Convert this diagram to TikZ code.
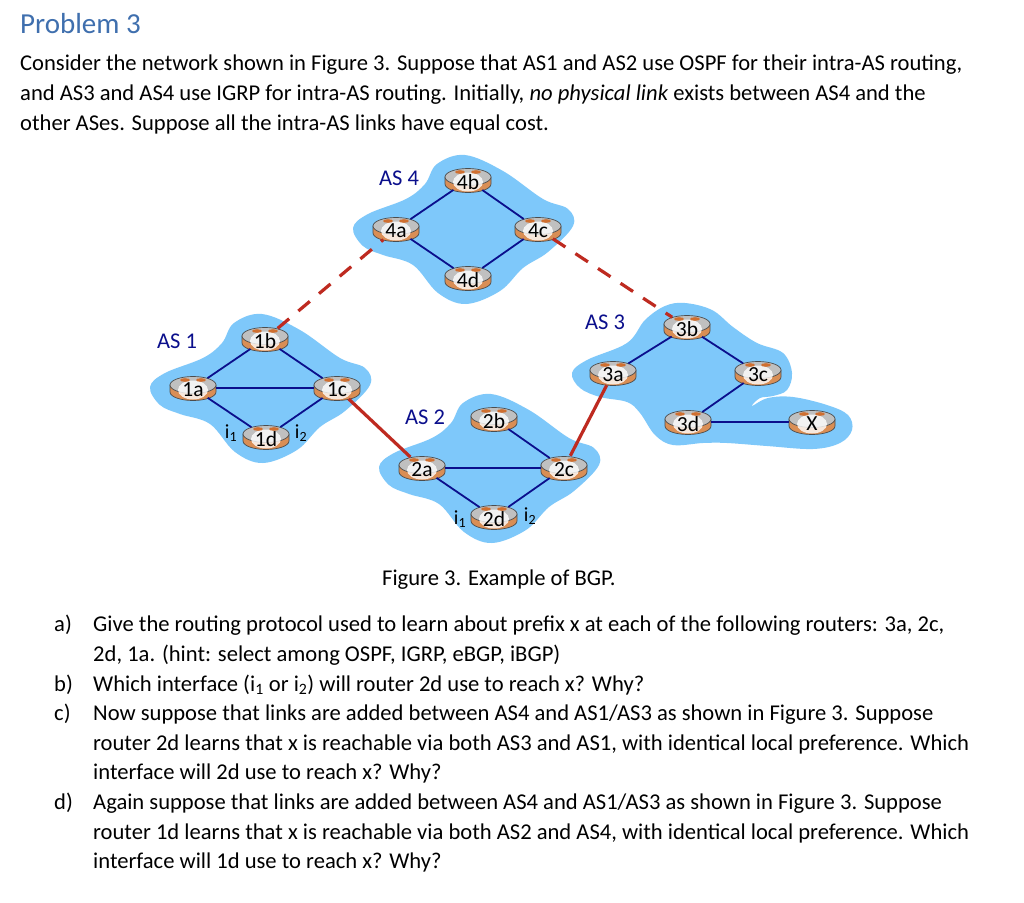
\documentclass[tikz,border=0pt]{standalone}
\usepackage{fontspec}
\setmainfont{Carlito}
\definecolor{asblue}{HTML}{7EC8FA}
\definecolor{asnavy}{HTML}{0B0F8C}
\definecolor{linkred}{HTML}{BE2A20}
\definecolor{titleblue}{HTML}{3F6FAE}
\definecolor{routertop}{HTML}{C0C0C0}
\definecolor{routerside}{HTML}{D98E55}
\definecolor{routermark}{HTML}{CF6F30}
\tikzset{
    textline/.style={anchor=base west, inner sep=0pt, font=\fontsize{22.58}{26}\selectfont},
    aslabel/.style={text=asnavy, inner sep=0pt, font=\fontsize{22.5}{26}\selectfont},
    iflabel/.style={inner sep=0pt, font=\fontsize{20}{24}\selectfont},
    routerbody/.style={ellipse, minimum width=46pt, minimum height=25pt, inner sep=0pt},
    routerlabel/.style={inner sep=0pt, font=\fontsize{21.5}{24}\selectfont},
    aslink/.style={asnavy, line width=1.8pt},
    peerlink/.style={linkred, line width=3.2pt},
    newlink/.style={linkred, line width=3.2pt, dash pattern=on 15pt off 12pt},
}
\usetikzlibrary{shapes.geometric}
\newcommand{\asblob}[1]{
    \fill[asblue, shift={(#1)}] plot[smooth cycle, tension=0.6] coordinates {
        (150,387) (165,373) (203,358) (222,343) (234,323) (262,314) (300,330)
        (340,358) (365,368) (370,385) (345,411) (320,427) (297,450) (263,463)
        (235,452) (210,424) (180,414) (160,405)};
}
\newcommand{\router}[3]{
    \node[routerbody] (#1) at (#2) {};
    \begin{scope}[shift={(#2)}]
        \draw[fill=routerside, line width=0.7pt, draw=black!70] (-23,-3) -- (-23,4) arc[start angle=180, end angle=360, x radius=23pt, y radius=8.5pt] -- (23,-3) -- cycle;
        \draw[fill=routertop, line width=0.7pt, draw=black!70] (0,-3) ellipse (23pt and 8.5pt);
        \fill[white, opacity=0.8] (0,2) ellipse (15pt and 9.5pt);
        \fill[routermark] (-8,-8) ellipse (5pt and 1.8pt);
        \fill[routermark] (8,-8) ellipse (5pt and 1.8pt);
    \end{scope}
    \node[routerlabel, yshift=-2pt] (#1-label) at (#2) {#3};
}
\begin{document}
\begin{tikzpicture}[x=1pt, y=-1pt]
    \useasboundingbox (0,0) rectangle (1024,902);
    \fill[white] (0,0) rectangle (1024,902);

    % Heading and question
    \node[anchor=base west, inner sep=0pt, text=titleblue, font=\fontsize{29}{32}\selectfont] (title) at (20,33.5) {Problem 3};
    \node[textline] (intro1) at (20,70.5) {Consider the network shown in Figure 3. Suppose that AS1 and AS2 use OSPF for their intra-AS routing,};
    \node[textline] (intro2) at (20,100.5) {and AS3 and AS4 use IGRP for intra-AS routing. Initially, \textit{no physical link} exists between AS4 and the};
    \node[textline] (intro3) at (20,130) {other ASes. Suppose all the intra-AS links have equal cost.};

    % Clouds
    \asblob{0,0}
    \asblob{229,80}
    \asblob{203,-159}
    \fill[asblue] plot[smooth cycle, tension=0.6] coordinates {
        (572,373) (587,360) (627,343) (645,320) (665,306) (685,303) (712,310) (733,327)
        (757,343) (783,353) (792,373) (787,390) (773,396) (760,398) (752,406) (768,398)
        (793,397) (827,405) (848,415) (852,430) (840,443) (813,449) (767,446) (727,443)
        (703,443) (673,445) (655,435) (640,413) (627,402) (600,397) (580,388)};

    % AS 1
    \node[aslabel] (as1) at (177,341) {AS 1};
    \router{1a}{193,388}{1a}
    \router{1b}{265,339}{1b}
    \router{1c}{337,388}{1c}
    \router{1d}{266,437}{1d}
    \node[iflabel] (if11) at (231,433) {i\textsubscript{1}};
    \node[iflabel] (if12) at (301,433) {i\textsubscript{2}};
    \draw[aslink] (1a) -- (1b);
    \draw[aslink] (1b) -- (1c);
    \draw[aslink] (1a) -- (1c);
    \draw[aslink] (1a) -- (1d);
    \draw[aslink] (1d) -- (1c);

    % AS 2
    \node[aslabel] (as2) at (425,417) {AS 2};
    \router{2a}{422,468}{2a}
    \router{2b}{494,419}{2b}
    \router{2c}{564,468}{2c}
    \router{2d}{494,517}{2d}
    \node[iflabel] (if21) at (460,519) {i\textsubscript{1}};
    \node[iflabel] (if22) at (530,516) {i\textsubscript{2}};
    \draw[aslink] (2b) -- (2c);
    \draw[aslink] (2a) -- (2c);
    \draw[aslink] (2a) -- (2d);
    \draw[aslink] (2d) -- (2c);

    % AS 4
    \node[aslabel] (as4) at (399,178) {AS 4};
    \router{4a}{396,229}{4a}
    \router{4b}{468,180}{4b}
    \router{4c}{538,229}{4c}
    \router{4d}{468,278}{4d}
    \draw[aslink] (4a) -- (4b);
    \draw[aslink] (4b) -- (4c);
    \draw[aslink] (4a) -- (4d);
    \draw[aslink] (4d) -- (4c);

    % AS 3
    \node[aslabel] (as3) at (605,322) {AS 3};
    \router{3a}{613,373}{3a}
    \router{3b}{687,327}{3b}
    \router{3c}{758,373}{3c}
    \router{3d}{688,422}{3d}
    \router{x}{812,422}{X}
    \draw[aslink] (3a) -- (3b);
    \draw[aslink] (3b) -- (3c);
    \draw[aslink] (3c) -- (3d);
    \draw[aslink] (3d) -- (x);

    % Links between the ASes
    \draw[peerlink] (1c) -- (2a);
    \draw[peerlink] (2c) -- (3a);
    \draw[newlink] (1b) -- (4a);
    \draw[newlink] (4c) -- (3b);

    % Caption and parts
    \node[textline] (caption) at (382,585.5) {Figure 3. Example of BGP.};
    \node[textline] (parta) at (54,631.5) {a)};
    \node[textline] (a1) at (93,631.5) {Give the routing protocol used to learn about prefix x at each of the following routers: 3a, 2c,};
    \node[textline] (a2) at (93,661) {2d, 1a. (hint: select among OSPF, IGRP, eBGP, iBGP)};
    \node[textline] (partb) at (54,691) {b)};
    \node[textline] (b1) at (93,691) {Which interface (i\textsubscript{1} or i\textsubscript{2}) will router 2d use to reach x? Why?};
    \node[textline] (partc) at (54,720.5) {c)};
    \node[textline] (c1) at (93,720.5) {Now suppose that links are added between AS4 and AS1/AS3 as shown in Figure 3. Suppose};
    \node[textline] (c2) at (93,750) {router 2d learns that x is reachable via both AS3 and AS1, with identical local preference. Which};
    \node[textline] (c3) at (93,779.5) {interface will 2d use to reach x? Why?};
    \node[textline] (partd) at (54,809.5) {d)};
    \node[textline] (d1) at (93,809.5) {Again suppose that links are added between AS4 and AS1/AS3 as shown in Figure 3. Suppose};
    \node[textline] (d2) at (93,839) {router 1d learns that x is reachable via both AS2 and AS4, with identical local preference. Which};
    \node[textline] (d3) at (93,868.5) {interface will 1d use to reach x? Why?};
\end{tikzpicture}
\end{document}
